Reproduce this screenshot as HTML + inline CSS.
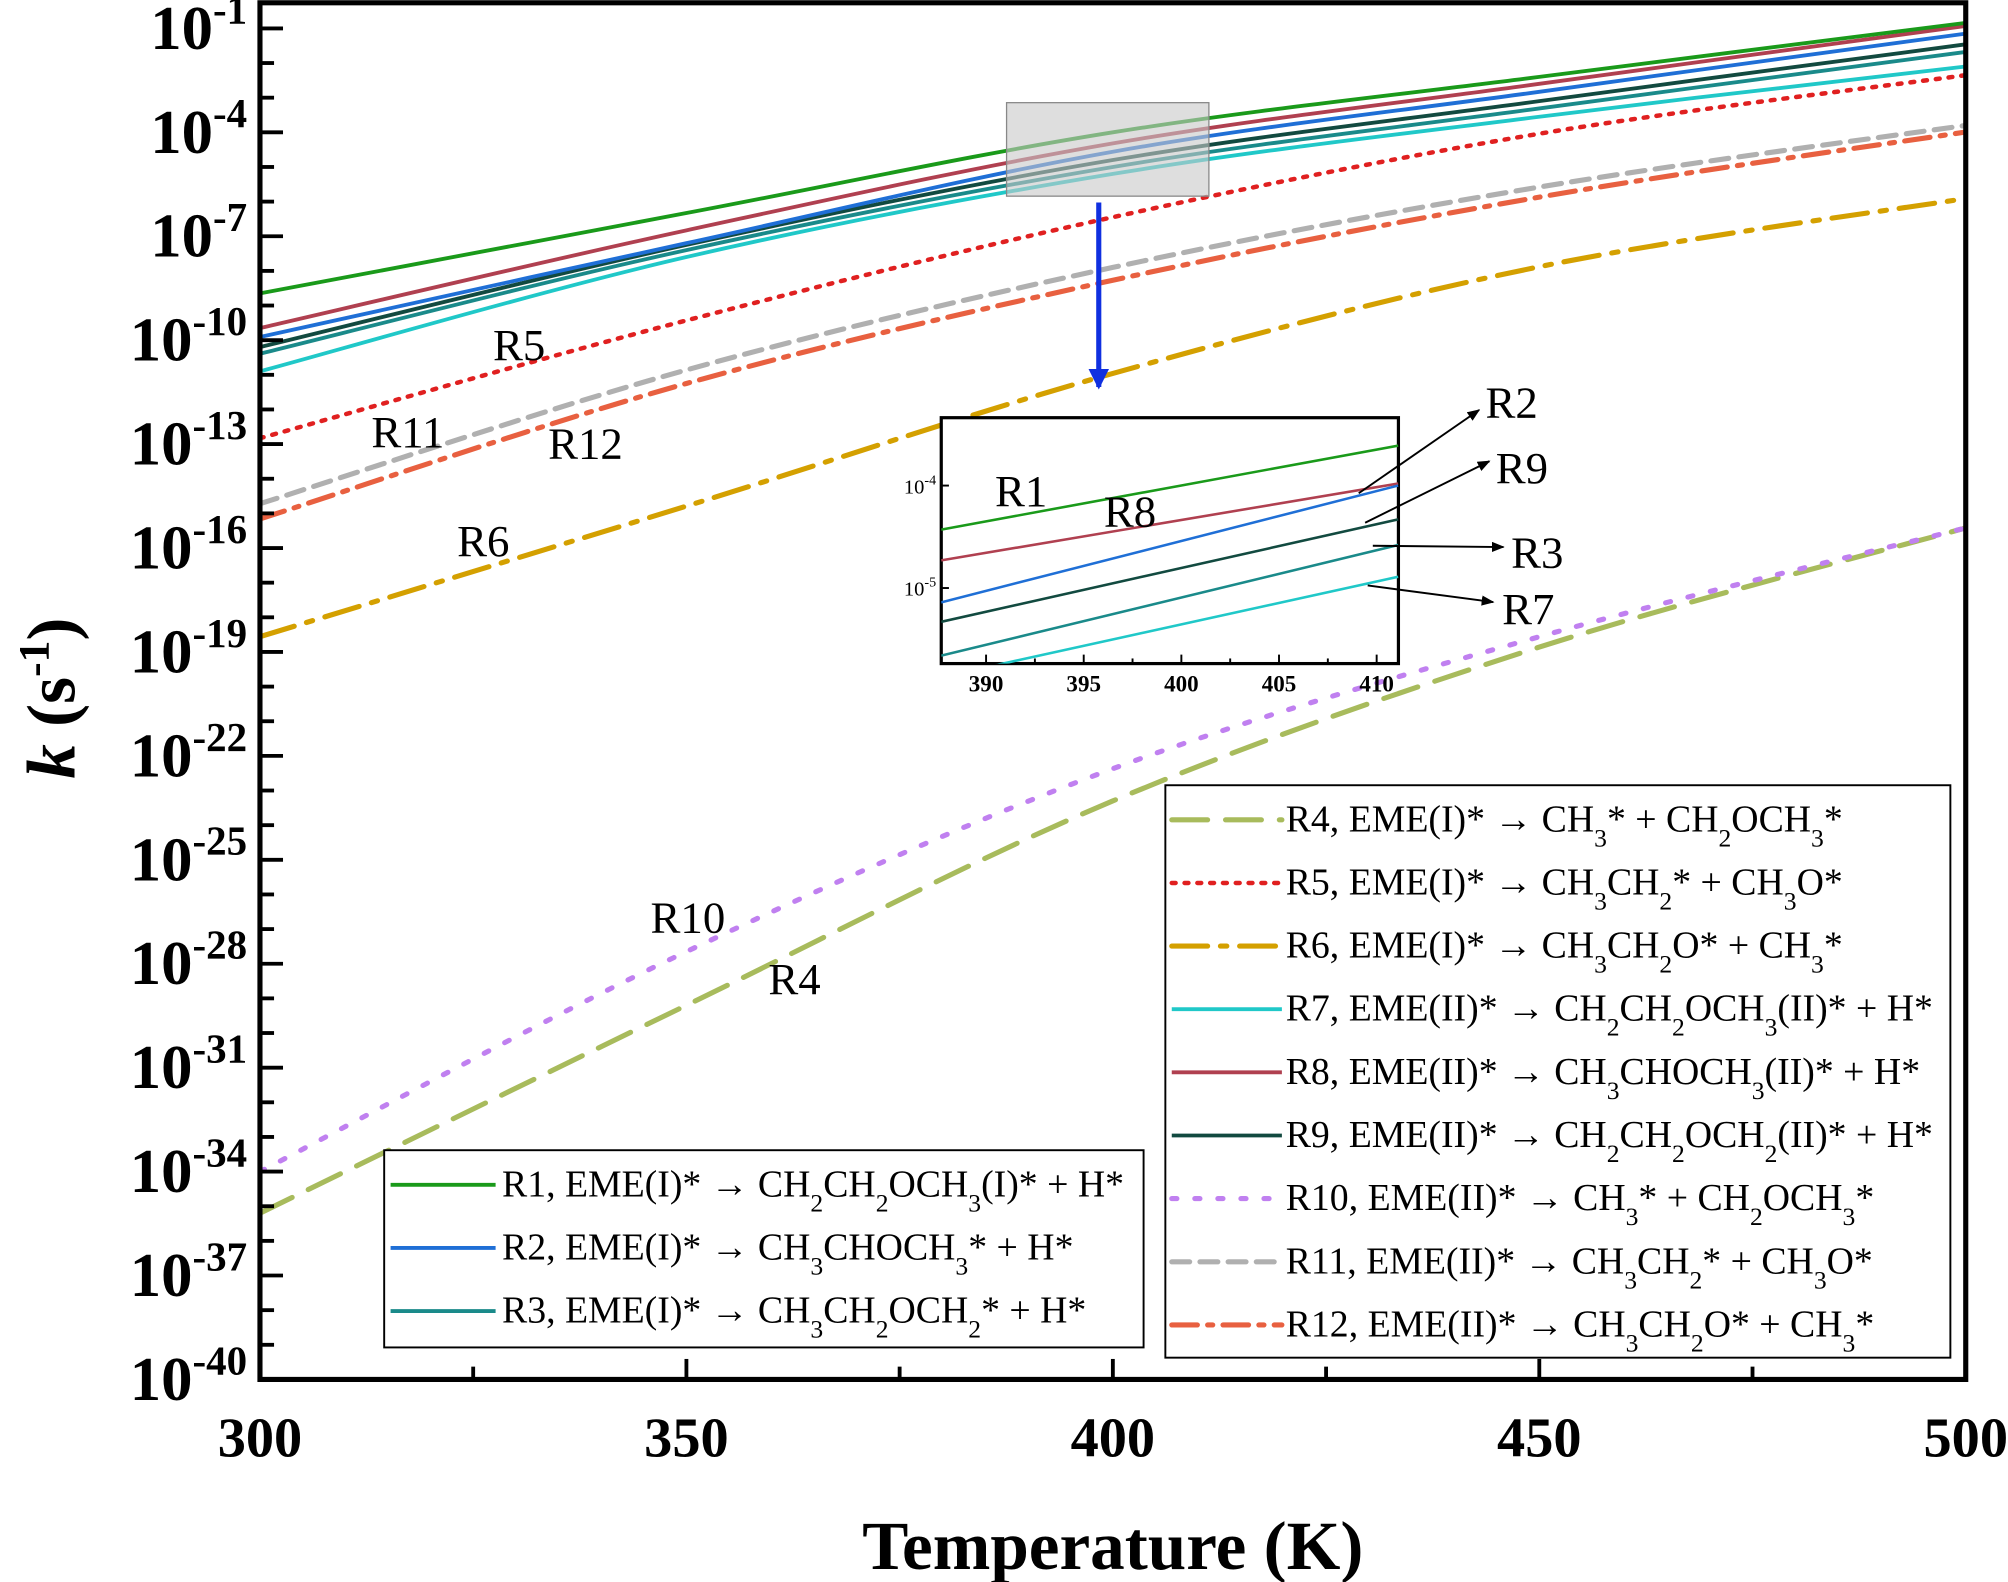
<!DOCTYPE html>
<html><head><meta charset="utf-8">
<style>
html,body{margin:0;padding:0;background:#fff;}
svg{display:block;}
text{font-family:"Liberation Serif",serif;fill:#000;}
</style></head>
<body>
<svg id="chart" width="2008" height="1582" viewBox="0 0 1568 1235" xmlns="http://www.w3.org/2000/svg">
<g id="g"></g>
</svg>
<script>
// ---- data ----
const temps = [300, 350, 400, 450, 500];
const seriesNames = ["R1","R2","R3","R4","R5","R6","R7","R8","R9","R10","R11","R12"];
const R1 = [-8.65, -6.33, -4.0, -2.4, -0.84];
const R2 = [-9.91, -7.2, -4.56, -2.83, -1.15];
const R3 = [-10.39, -7.4, -5.0, -3.31, -1.68];
const R4 = [-35.2, -29.2, -23.3, -18.86, -15.42];
const R5 = [-12.83, -9.43, -6.45, -4.04, -2.35];
const R6 = [-18.56, -14.79, -10.96, -7.88, -5.91];
const R7 = [-10.9, -7.6, -5.2, -3.55, -2.1];
const R8 = [-9.65, -6.83, -4.32, -2.6, -0.93];
const R9 = [-10.2, -7.25, -4.8, -3.1, -1.46];
const R10 = [-34.0, -27.65, -22.37, -18.56, -15.42];
const R11 = [-14.72, -10.86, -7.9, -5.58, -3.8];
const R12 = [-15.16, -11.25, -8.27, -5.87, -3.99];
const xTicks = [300, 350, 400, 450, 500];
const yTickExps = [-1, -4, -7, -10, -13, -16, -19, -22, -25, -28, -31, -34, -37, -40];
// inset data
const insetTemps = [387.7, 411.1];
const insetR1 = [-4.43, -3.61];
const insetR8 = [-4.73, -3.98];
const insetR2 = [-5.14, -4.00];
const insetR9 = [-5.33, -4.33];
const insetR3 = [-5.66, -4.58];
const insetR7 = [-5.87, -4.89];
const insetXTicks = [390, 395, 400, 405, 410];
const insetYTicks = [-4, -5];

const s = t=>"<tspan baseline-shift='sub' font-size='20'>"+t+"</tspan>";
const legendLeft = [
 ["R1", "R1, EME(I)* → CH"+s(2)+"CH"+s(2)+"OCH"+s(3)+"(I)* + H*"],
 ["R2", "R2, EME(I)* → CH"+s(3)+"CHOCH"+s(3)+"* + H*"],
 ["R3", "R3, EME(I)* → CH"+s(3)+"CH"+s(2)+"OCH"+s(2)+"* + H*"]];
const legendRight = [
 ["R4", "R4, EME(I)* → CH"+s(3)+"* + CH"+s(2)+"OCH"+s(3)+"*"],
 ["R5", "R5, EME(I)* → CH"+s(3)+"CH"+s(2)+"* + CH"+s(3)+"O*"],
 ["R6", "R6, EME(I)* → CH"+s(3)+"CH"+s(2)+"O* + CH"+s(3)+"*"],
 ["R7", "R7, EME(II)* → CH"+s(2)+"CH"+s(2)+"OCH"+s(3)+"(II)* + H*"],
 ["R8", "R8, EME(II)* → CH"+s(3)+"CHOCH"+s(3)+"(II)* + H*"],
 ["R9", "R9, EME(II)* → CH"+s(2)+"CH"+s(2)+"OCH"+s(2)+"(II)* + H*"],
 ["R10", "R10, EME(II)* → CH"+s(3)+"* + CH"+s(2)+"OCH"+s(3)+"*"],
 ["R11", "R11, EME(II)* → CH"+s(3)+"CH"+s(2)+"* + CH"+s(3)+"O*"],
 ["R12", "R12, EME(II)* → CH"+s(3)+"CH"+s(2)+"O* + CH"+s(3)+"*"]];

const styles = {
 R1:{c:"#1a9a1a",w:3,d:""}, R2:{c:"#1f6fd6",w:3,d:""}, R3:{c:"#1a8a8a",w:3,d:""},
 R4:{c:"#a8bb5c",w:4,d:"28 14"}, R5:{c:"#e02020",w:3.5,d:"3 7"}, R6:{c:"#d4a000",w:4,d:"28 10 5 10"},
 R7:{c:"#20c8c8",w:3,d:""}, R8:{c:"#b04050",w:3,d:""}, R9:{c:"#124a40",w:3,d:""},
 R10:{c:"#c080f0",w:4,d:"4 14"}, R11:{c:"#b0b0b0",w:4,d:"14 8"}, R12:{c:"#e86040",w:4,d:"20 8 4 8"}};
const data = {R1,R2,R3,R4,R5,R6,R7,R8,R9,R10,R11,R12};

// ---- axes ----
const X0=203,X1=1535,Y0=22,Y1=1077;
const xs = t => X0+(t-300)/200*(X1-X0);
const ys = l => Y0+(-1-l)/39*(Y1-Y0);
const IX0=735,IX1=1092,IY0=326,IY1=518;
const ixs = t => 770+(t-390)*15.25;
const iys = l => 379+(-4-l)*80;

const NS="http://www.w3.org/2000/svg";
const g=document.getElementById('g');
function el(tag,attrs,parent){const e=document.createElementNS(NS,tag);for(const k in attrs)e.setAttribute(k,attrs[k]);(parent||g).appendChild(e);return e;}
function smooth(pts){
 let d="M"+pts[0][0]+","+pts[0][1];
 for(let i=0;i<pts.length-1;i++){
  const p0=pts[Math.max(i-1,0)],p1=pts[i],p2=pts[i+1],p3=pts[Math.min(i+2,pts.length-1)];
  const c1=[p1[0]+(p2[0]-p0[0])/6,p1[1]+(p2[1]-p0[1])/6];
  const c2=[p2[0]-(p3[0]-p1[0])/6,p2[1]-(p3[1]-p1[1])/6];
  d+=" C"+c1+" "+c2+" "+p2;
 }
 return d;
}
const defs=el('defs',{});
const cp=el('clipPath',{id:'clip'},defs); el('rect',{x:X0,y:Y0-20,width:X1-X0,height:Y1-Y0+20},cp);
const cpi=el('clipPath',{id:'clipi'},defs); el('rect',{x:IX0,y:IY0,width:IX1-IX0,height:IY1-IY0},cpi);
const mk=el('marker',{id:'arr',markerWidth:10,markerHeight:8,refX:9,refY:4,orient:'auto',markerUnits:'userSpaceOnUse'},defs);
el('path',{d:'M0,0 L10,4 L0,8 z',fill:'#000'},mk);
const mkb=el('marker',{id:'arrb',markerWidth:16,markerHeight:16,refX:8,refY:14,orient:'0',markerUnits:'userSpaceOnUse'},defs);
el('path',{d:'M0,0 L16,0 L8,16 z',fill:'#1030e0'},mkb);

// series
const sg=el('g',{'clip-path':'url(#clip)'});


const order=["R4","R10","R6","R12","R11","R5","R7","R3","R9","R2","R8","R1"];
order.forEach(n=>{
 const pts=temps.map((t,i)=>[xs(t),ys(data[n][i])]);
 const st=styles[n];
 const p=el('path',{d:smooth(pts),fill:'none',stroke:st.c,'stroke-width':st.w,'stroke-dasharray':st.d,'stroke-linecap':st.d?'round':'butt'},sg);
 
 
});

// frame
const fr=el('rect',{x:X0,y:Y0-20,width:X1-X0,height:Y1-Y0+20,fill:'none',stroke:'#000','stroke-width':4});



// y ticks
for(let e=-40;e<=0;e++){
 const y=ys(e);
 const major=yTickExps.includes(e);
 el('line',{x1:X0,x2:X0+(major?18:11),y1:y,y2:y,stroke:'#000','stroke-width':3});
}
yTickExps.forEach(e=>{
 const t=el('text',{x:X0-10,y:ys(e)+16,'text-anchor':'end','font-size':49,'font-weight':'bold'});
 t.innerHTML="10<tspan dy='-20' font-size='32'>"+e+"</tspan>";
 
 
});
// x ticks
for(let T=300;T<=500;T+=25){
 const major=xTicks.includes(T);
 el('line',{x1:xs(T),x2:xs(T),y1:Y1,y2:Y1-(major?16:10),stroke:'#000','stroke-width':3});
}
xTicks.forEach(T=>{
 const t=el('text',{x:xs(T),y:Y1+60,'text-anchor':'middle','font-size':44,'font-weight':'bold'});
 t.textContent=T;
 
 
});
const xt=el('text',{x:869,y:1225,'text-anchor':'middle','font-size':54,'font-weight':'bold'});
xt.textContent="Temperature (K)";


const yt=el('text',{transform:'translate(58,545) rotate(-90)','text-anchor':'middle','font-size':54,'font-weight':'bold'});
yt.innerHTML="<tspan font-style='italic'>k</tspan> (s<tspan dy='-20' font-size='34'>-1</tspan><tspan dy='20'>)</tspan>";



// zoom rect + arrow
const zr=el('rect',{x:786,y:80,width:158,height:73,fill:'#c8c8c8','fill-opacity':0.6,stroke:'#888','stroke-width':1});


const za=el('line',{x1:858,y1:158,x2:858,y2:302,stroke:'#1030e0','stroke-width':4,'marker-end':'url(#arrb)'});



// inset
const ig=el('g',{});


el('rect',{x:IX0,y:IY0,width:IX1-IX0,height:IY1-IY0,fill:'#fff',stroke:'#000','stroke-width':2.5},ig);
const icl=el('g',{'clip-path':'url(#clipi)'},ig);
[["R1",insetR1],["R8",insetR8],["R2",insetR2],["R9",insetR9],["R3",insetR3],["R7",insetR7]].forEach(([n,arr])=>{
 const l=el('line',{x1:ixs(insetTemps[0]),y1:iys(arr[0]),x2:ixs(insetTemps[1]),y2:iys(arr[1]),stroke:styles[n].c,'stroke-width':2},icl);
 
 
});
for(let T=390;T<=411;T+=2.5){
 el('line',{x1:ixs(T),x2:ixs(T),y1:IY1,y2:IY1-(T%5===0?7:4),stroke:'#000','stroke-width':1.5},ig);
}
insetXTicks.forEach(T=>{const t=el('text',{x:ixs(T),y:IY1+22,'text-anchor':'middle','font-size':18,'font-weight':'bold'},ig);t.textContent=T;
 });
insetYTicks.forEach(e=>{el('line',{x1:IX0,x2:IX0+6,y1:iys(e),y2:iys(e),stroke:'#000','stroke-width':1.5},ig);
 const t=el('text',{x:IX0-4,y:iys(e)+6,'text-anchor':'end','font-size':16},ig);t.innerHTML="10<tspan dy='-7' font-size='11'>"+e+"</tspan>";
 });

// annotations
const ann=[["R5",385,281],["R11",290,349],["R12",428,358],["R6",357,434],["R10",508,728],["R4",600,776],["R1",777,395],["R8",862,411],["R2",1160,326],["R9",1168,377],["R3",1180,443],["R7",1173,487]];
ann.forEach(([n,x,y])=>{const t=el('text',{x:x,y:y,'font-size':35});t.textContent=n;
 });
[[1061,385,1155,320],[1066,408,1163,360],[1072,426,1174,427],[1068,457,1166,470]].forEach(a=>{
 const l=el('line',{x1:a[0],y1:a[1],x2:a[2],y2:a[3],stroke:'#000','stroke-width':1.5,'marker-end':'url(#arr)'});
 });

// legends
function legend(x,y,w,h,items,sx,lineLen){
 const lg=el('g',{});
 
 
 el('rect',{x:x,y:y,width:w,height:h,fill:'#fff',stroke:'#000','stroke-width':1.5},lg);
 items.forEach(([n,txt],i)=>{
  const cy=y+27+i*49.3;
  const st=styles[n];
  el('line',{x1:x+5,x2:x+5+lineLen,y1:cy,y2:cy,stroke:st.c,'stroke-width':st.w,'stroke-dasharray':st.d,'stroke-linecap':st.d?'round':'butt'},lg);
  const t=el('text',{x:x+sx,y:cy+9,'font-size':29.5},lg);
  t.innerHTML=txt;
  
  
 });
}
legend(300,898,593,154,legendLeft,92,82);
legend(910,613,613,447,legendRight,94,86);
</script>
</body></html>
